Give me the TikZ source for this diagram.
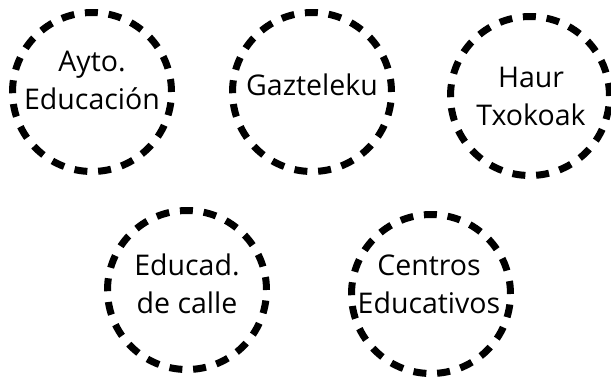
\documentclass[tikz,border=0pt]{standalone}
\usepackage{fontspec}
\setmainfont{Open Sans}
\begin{document}
\begin{tikzpicture}[x=1pt,y=-1pt,
  ring/.style={circle,draw=black,line width=7pt,minimum size=159pt,inner sep=0pt,
    dash pattern=on 13pt off 10.8pt},
  lbl/.style={align=center,inner sep=0pt,font=\fontsize{28.5}{38}\selectfont}]
\useasboundingbox (0,0) rectangle (611,376);
\node[ring] (c1) at (92,92) {};
\node[ring] (c2) at (312,92) {};
\node[ring] (c3) at (530,96) {};
\node[ring] (c4) at (187,290) {};
\node[ring] (c5) at (431,294) {};
\node[lbl] (t1) at (92,80) {Ayto.\\Educación};
\node[lbl] (t2) at (312,85) {Gazteleku};
\node[lbl] (t3) at (531,96) {Haur\\Txokoak};
\node[lbl] (t4) at (187,284) {Educad.\\de calle};
\node[lbl] (t5) at (429,284) {Centros\\Educativos};
\end{tikzpicture}
\end{document}
